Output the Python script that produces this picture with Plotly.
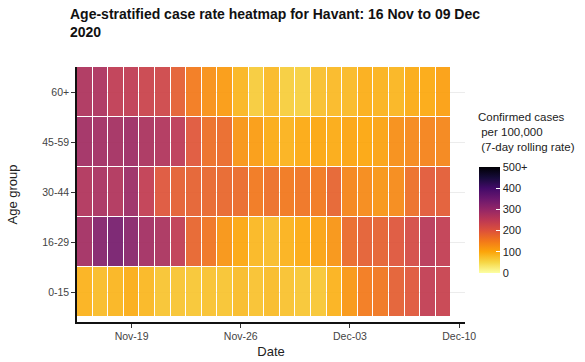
import pandas as pd
import plotly.graph_objects as go

# data
start_date = "2020-11-16"
end_date = "2020-12-09"
age_groups = ["0-15", "16-29", "30-44", "45-59", "60+"]

rate_0_15 = [88, 78, 85, 93, 83, 70, 70, 68, 72, 70, 78, 72,
             78, 72, 68, 68, 88, 118, 150, 155, 185, 195, 242, 235]
rate_16_29 = [282, 320, 335, 315, 282, 272, 245, 177, 158, 120, 100, 83,
              78, 88, 97, 105, 120, 170, 185, 182, 198, 215, 255, 242]
rate_30_44 = [265, 275, 265, 292, 243, 198, 185, 182, 175, 175, 170, 152,
              165, 152, 158, 152, 180, 138, 132, 120, 132, 165, 192, 188]
rate_45_59 = [283, 283, 280, 288, 272, 265, 250, 195, 165, 170, 120, 112,
              95, 88, 97, 100, 95, 102, 100, 105, 128, 135, 140, 137]
rate_60_plus = [268, 270, 245, 245, 230, 225, 185, 150, 125, 113, 85, 62,
                80, 60, 58, 75, 80, 80, 92, 88, 85, 95, 97, 108]

cbar_ticks = [0, 100, 200, 300, 400, 500]
cbar_labels = ["0", "100", "200", "300", "400", "500+"]

dates = pd.date_range(start_date, end_date, freq="D")
z = [rate_0_15, rate_16_29, rate_30_44, rate_45_59, rate_60_plus]

# reversed inferno
inferno_r = [
    [0.0, "#fcffa4"], [0.1, "#f6d746"], [0.2, "#fca50a"], [0.3, "#f37819"],
    [0.4, "#dd513a"], [0.5, "#bc3754"], [0.6, "#932667"], [0.7, "#6a176e"],
    [0.8, "#420a68"], [0.9, "#160b39"], [1.0, "#000004"],
]

fig = go.Figure(go.Heatmap(
    x=dates, y=age_groups, z=z,
    zmin=0, zmax=500,
    colorscale=inferno_r,
    xgap=1, ygap=1,
    opacity=0.93,
    colorbar=dict(
        tickvals=cbar_ticks, ticktext=cbar_labels,
        thickness=21, lenmode="pixels", len=106,
        xpad=0, ypad=0,
        x=(479 - 77) / 388, xanchor="left",
        y=(322 - 220) / 255, yanchor="middle",
        ticks="inside", ticklen=4, tickcolor="white",
        outlinewidth=0,
        tickfont=dict(size=11, color="#222"),
    ),
    hovertemplate="%{x|%d %b}<br>%{y}: %{z}<extra></extra>",
))

fig.update_layout(
    width=585, height=362,
    margin=dict(l=77, r=120, t=67, b=40),
    paper_bgcolor="white", plot_bgcolor="white",
    font=dict(family="Liberation Sans, Arial, sans-serif", color="#222"),
    xaxis=dict(
        title=dict(text="Date", font=dict(size=13), standoff=6),
        range=["2020-11-15 12:00", "2020-12-10 09:00"],
        tick0="2020-11-19", dtick=7 * 86400000, tickformat="%b-%d",
        ticks="outside", ticklen=4, tickcolor="#333",
        showline=True, linecolor="#111", linewidth=1.5,
        showgrid=False, zeroline=False, automargin=False,
        tickfont=dict(size=10.5, color="#444"),
    ),
    yaxis=dict(
        title=dict(text="Age group", font=dict(size=13), standoff=22),
        range=[-0.6, 4.5],
        ticks="outside", ticklen=4, tickcolor="#333",
        showline=True, linecolor="#111", linewidth=1.5,
        showgrid=True, gridcolor="#ececec", automargin=False,
        tickfont=dict(size=10.5, color="#444"),
    ),
    annotations=[
        dict(
            text="<b>Age-stratified case rate heatmap for Havant: 16 Nov to 09 Dec<br>2020</b>",
            xref="paper", yref="paper", x=(68 - 77) / 388, y=(322 - 4) / 255,
            xanchor="left", yanchor="top", align="left", showarrow=False,
            font=dict(size=14, color="#111"),
        ),
        dict(
            text="Confirmed cases<br> per 100,000<br> (7-day rolling rate)",
            xref="paper", yref="paper", x=(476 - 77) / 388, y=(322 - 132) / 255,
            xanchor="left", yanchor="middle", align="left", showarrow=False,
            font=dict(size=11.5, color="#222"),
        ),
    ],
)

fig.write_html("out.html", config={"displayModeBar": False},
               post_script="document.body.style.margin='0px';")
